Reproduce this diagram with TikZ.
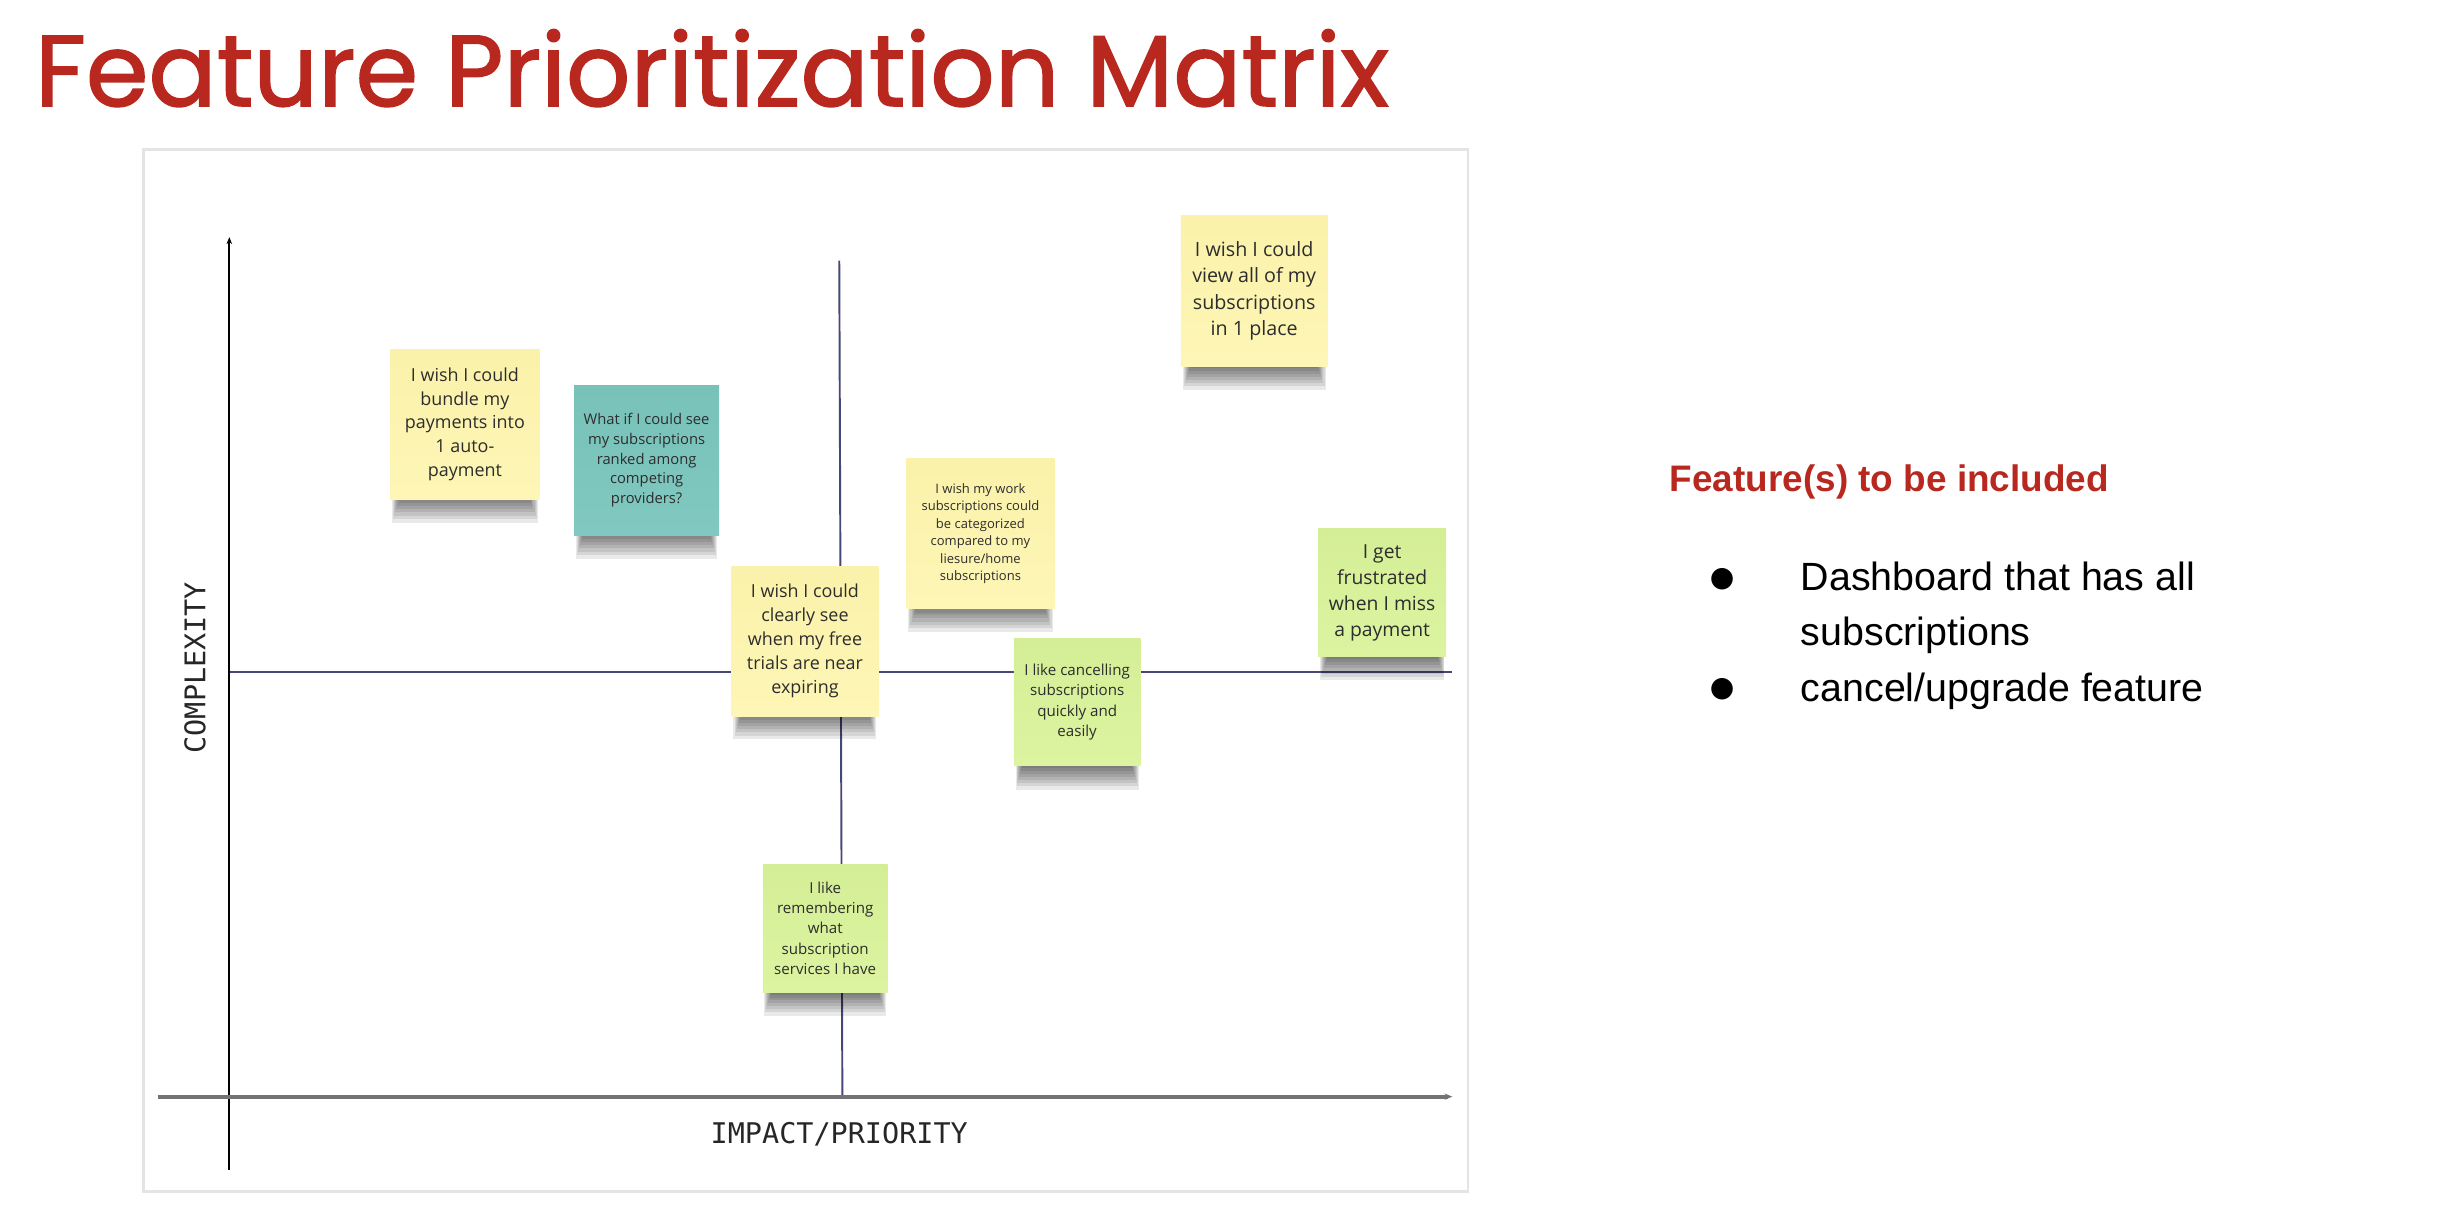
\documentclass[tikz,border=0pt]{standalone}
\usepackage{fontspec}
\usetikzlibrary{shadows,arrows.meta}
\setmainfont{Liberation Sans}
\newfontfamily\titlefont{Poppins}[FakeBold=1.4]
\newfontfamily\notefont{Open Sans}
\newfontfamily\sidefont{Liberation Sans}
\newfontfamily\symfont{DejaVu Sans}
\newfontfamily\axisfont{DejaVu Sans Mono}
\definecolor{brandred}{RGB}{185,40,30}
\definecolor{noteyellow}{RGB}{254,246,182}
\definecolor{noteyellowtop}{RGB}{250,241,170}
\definecolor{noteteal}{RGB}{128,200,192}
\definecolor{notetealtop}{RGB}{120,194,186}
\definecolor{notegreen}{RGB}{220,244,160}
\definecolor{notegreentop}{RGB}{212,238,150}
\definecolor{notetext}{RGB}{45,45,45}
\definecolor{midline}{RGB}{70,70,120}
\definecolor{boardline}{RGB}{228,228,228}
\newcommand\spx{0.4436pt}
\newcommand\nfs[2]{\fontsize{#1}{#2}\selectfont\notefont}
\tikzset{
  shadowlayer/.style 2 args={general shadow={fill=black, opacity=0.085, rounded corners=3pt,
      shadow scale=#1, shadow yshift=#2}},
  note/.style={rectangle, inner sep=0pt, align=center, text=notetext,
    shadowlayer={0.975}{-7.4pt}, shadowlayer={0.96}{-6.7pt}, shadowlayer={0.945}{-6.2pt},
    shadowlayer={0.93}{-5.65pt}, shadowlayer={0.915}{-5.1pt}, shadowlayer={0.90}{-4.6pt},
    shadowlayer={0.885}{-4.1pt}, shadowlayer={0.87}{-3.55pt}},
  yellownote/.style={note, top color=noteyellowtop, bottom color=noteyellow},
  tealnote/.style={note, top color=notetealtop, bottom color=noteteal},
  greennote/.style={note, top color=notegreentop, bottom color=notegreen},
  axisline/.style={line width=0.6pt, black},
  baseaxis/.style={line width=1.1pt, black!55},
  quadline/.style={line width=0.55pt, midline},
  axislabel/.style={font=\fontsize{8.1}{9}\selectfont\axisfont, text=black!85},
  sidetext/.style={anchor=base west, inner sep=0pt, font=\fontsize{11.2}{15.6}\selectfont\sidefont},
  bulletmark/.style={inner sep=0pt, font=\fontsize{8}{9}\selectfont\symfont}
}
\begin{document}
\begin{tikzpicture}[x=0.0156cm, y=-0.0156cm]
\useasboundingbox (0,0) rectangle (1568,777);

% title
\node[anchor=base west, inner sep=0pt, text=brandred, font=\fontsize{28.7}{34}\selectfont\titlefont] (title) at (22,68) {Feature Prioritization Matrix};

% board
\draw[boardline, line width=0.8pt] (92,96) rectangle (941,764);

% axes and quadrant lines
\coordinate (ybot) at (147,750);
\coordinate (ytop) at (147,152);
\coordinate (xleft) at (101,703);
\coordinate (xright) at (931,703);
\coordinate (vtop) at (538,167);
\coordinate (vbot) at (540,703);
\coordinate (hleft) at (147,431);
\coordinate (hright) at (931,431);
\draw[quadline] (vtop) -- (vbot);
\draw[quadline] (hleft) -- (hright);
\draw[axisline, -{Stealth[length=2pt,width=1.6pt]}] (ybot) -- (ytop);
\draw[baseaxis, -{Stealth[length=2.2pt,width=1.8pt]}] (xleft) -- (xright);

\node[axislabel, rotate=90] (ylab) at (125,428) {COMPLEXITY};
\node[axislabel] (xlab) at (538,727) {IMPACT/PRIORITY};

% sticky notes
\node[yellownote, minimum width=96*\spx, minimum height=96*\spx, font=\nfs{5.1}{6.8}] (n1) at (298,272)
  {I wish I could\\bundle my\\payments into\\1 auto-\\payment};
\node[tealnote, minimum width=93*\spx, minimum height=96*\spx, font=\nfs{4.2}{5.65}] (n2) at (414.5,295)
  {What if I could see\\my subscriptions\\ranked among\\competing\\providers?};
\node[yellownote, minimum width=94*\spx, minimum height=97*\spx, font=\nfs{5.6}{7.55}] (n3) at (804,186.5)
  {I wish I could\\view all of my\\subscriptions\\in 1 place};
\node[yellownote, minimum width=95*\spx, minimum height=96*\spx, font=\nfs{3.7}{4.97}] (n4) at (628.5,342)
  {I wish my work\\subscriptions could\\be categorized\\compared to my\\liesure/home\\subscriptions};
\node[yellownote, minimum width=94*\spx, minimum height=96*\spx, font=\nfs{5.1}{6.8}] (n5) at (516,411)
  {I wish I could\\clearly see\\when my free\\trials are near\\expiring};
\node[greennote, minimum width=81*\spx, minimum height=82*\spx, font=\nfs{4.3}{5.77}] (n6) at (690.5,450)
  {I like cancelling\\subscriptions\\quickly and\\easily};
\node[greennote, minimum width=82*\spx, minimum height=82*\spx, font=\nfs{5.5}{7.4}] (n7) at (886,380)
  {I get\\frustrated\\when I miss\\a payment};
\node[greennote, minimum width=80*\spx, minimum height=82*\spx, font=\nfs{4.3}{5.77}] (n8) at (529,595)
  {I like\\remembering\\what\\subscription\\services I have};

% side panel
\node[anchor=base west, inner sep=0pt, text=brandred, font=\fontsize{10.5}{12}\selectfont\sidefont\bfseries] (head) at (1070,315) {Feature(s) to be included};
\node[bulletmark] (b1) at (1104,371) {●};
\node[sidetext, align=left] (t1) at (1154,414) {Dashboard that has all\\subscriptions};
\node[bulletmark] (b2) at (1104,442) {●};
\node[sidetext] (t2) at (1154,450) {cancel/upgrade feature};
\end{tikzpicture}
\end{document}
